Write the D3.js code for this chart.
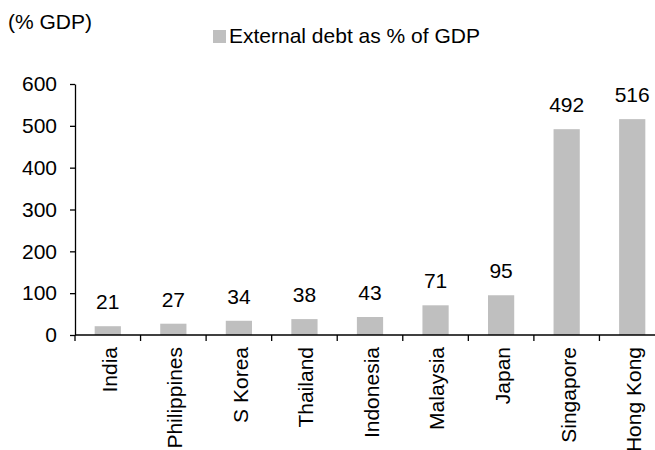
<!DOCTYPE html>
<html>
<head>
<meta charset="utf-8">
<script src="https://cdn.jsdelivr.net/npm/d3@7"></script>
<style>
  html, body { margin: 0; padding: 0; background: #fff; }
  svg { display: block; font-family: "Liberation Sans", Arial, sans-serif; }
</style>
</head>
<body>
<svg id="chart" width="655" height="450"></svg>
<script>
const categories = ["India", "Philippines", "S Korea", "Thailand", "Indonesia", "Malaysia", "Japan", "Singapore", "Hong Kong"];
const values = [21, 27, 34, 38, 43, 71, 95, 492, 516];
const yTicks = [0, 100, 200, 300, 400, 500, 600];
const seriesName = "External debt as % of GDP";
const unitLabel = "(% GDP)";

const svg = d3.select("#chart");
const barColor = "#BFBFBF";
const fontSize = 21;

const x = d3.scaleBand().domain(categories).range([75, 665]).paddingInner(0.6).paddingOuter(0.3);
const y = d3.scaleLinear().domain([0, 600]).range([335, 84]);

// Y axis
const yAxis = svg.append("g").attr("transform", "translate(75,0)")
  .call(d3.axisLeft(y).tickValues(yTicks).tickSize(5).tickPadding(13).tickSizeOuter(0));
yAxis.select(".domain").attr("stroke", "#000").attr("stroke-width", 1.3);
yAxis.selectAll(".tick line").attr("stroke", "#000").attr("stroke-width", 1.3);
yAxis.selectAll(".tick text").attr("font-size", fontSize).attr("fill", "#000")
  .attr("font-family", "Liberation Sans, Arial, sans-serif");

// Bars
svg.append("g").selectAll("rect").data(values).join("rect")
  .attr("x", (d, i) => x(categories[i]))
  .attr("y", d => y(d))
  .attr("width", x.bandwidth())
  .attr("height", d => y(0) - y(d))
  .attr("fill", barColor);

// Value labels
svg.append("g").selectAll("text").data(values).join("text")
  .attr("x", (d, i) => x(categories[i]) + x.bandwidth() / 2)
  .attr("y", d => y(d) - 17)
  .attr("text-anchor", "middle")
  .attr("font-size", fontSize)
  .attr("fill", "#000")
  .text(d => d);

// X axis line and boundary ticks
const step = x.step();
const x0 = 75;
svg.append("line").attr("x1", x0).attr("x2", 665).attr("y1", y(0)).attr("y2", y(0))
  .attr("stroke", "#000").attr("stroke-width", 1.3);
const bounds = d3.range(categories.length + 1).map(i => x0 + i * step);
svg.append("g").selectAll("line").data(bounds).join("line")
  .attr("x1", d => d).attr("x2", d => d)
  .attr("y1", y(0)).attr("y2", y(0) + 6)
  .attr("stroke", "#000").attr("stroke-width", 1.3);

// X labels rotated
svg.append("g").selectAll("text").data(categories).join("text")
  .attr("transform", d => `translate(${x(d) + x.bandwidth() / 2 + 1.5},347) rotate(-90)`)
  .attr("text-anchor", "end")
  .attr("dy", "0.35em")
  .attr("font-size", fontSize)
  .attr("fill", "#000")
  .text(d => d);

// Unit label
svg.append("text").attr("x", 8).attr("y", 29).attr("font-size", fontSize).attr("fill", "#000").text(unitLabel);

// Legend
svg.append("rect").attr("x", 213).attr("y", 30).attr("width", 13).attr("height", 13).attr("fill", barColor);
svg.append("text").attr("x", 229).attr("y", 43).attr("font-size", fontSize).attr("fill", "#000").text(seriesName);
</script>
</body>
</html>
